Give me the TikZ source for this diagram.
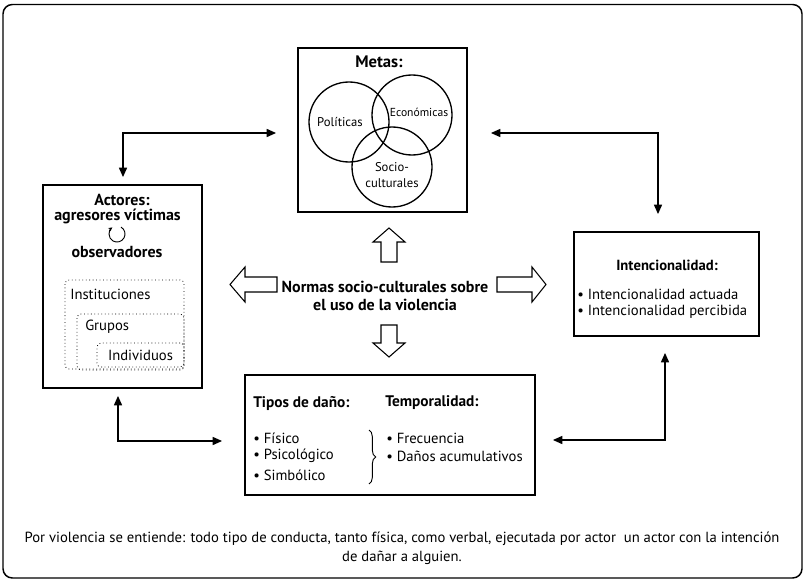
\documentclass[tikz,border=0pt]{standalone}
\usepackage{fontspec}
\setmainfont{PT Sans}
\usetikzlibrary{arrows.meta,calc,decorations.pathreplacing}

\tikzset{
  box/.style={draw, line width=1.4pt, inner sep=0pt},
  conn/.style={line width=1pt, {Triangle[length=7pt,width=6pt]}-{Triangle[length=7pt,width=6pt]}},
  blockarrow/.style={draw, line width=0.8pt, fill=white},
  level/.style={draw, dotted, rounded corners=3, line width=0.6pt},
  txt/.style={font=\fontsize{11}{13}\selectfont, inner sep=0pt},
  head/.style={font=\fontsize{11.5}{13}\selectfont\bfseries, inner sep=0pt},
  actorhead/.style={head, font=\fontsize{12}{14}\selectfont\bfseries},
}

\begin{document}
\begin{tikzpicture}[x=0.75pt,y=0.75pt,yscale=-1,xscale=1]
\useasboundingbox (0,0) rectangle (805,581);

%Outer frame
\draw [line width=1.1pt, rounded corners=7] (3,4.5) rectangle (802,578);

%Boxes
\node [box, minimum width=126.75pt, minimum height=123pt] (metas) at (382.5,130) {};
\node [box, minimum width=119.25pt, minimum height=152.25pt] (actores) at (122.5,286.5) {};
\node [box, minimum width=138.75pt, minimum height=78pt] (intenc) at (666.5,284) {};
\node [box, minimum width=217.5pt, minimum height=90pt] (tipos) at (390,435) {};

%Metas: Venn circles
\draw [line width=1pt] (349,122) circle (40);
\draw [line width=1pt] (412,115) circle (40);
\draw [line width=1pt] (392,167) circle (40);
% Text Node
\node [head, font=\fontsize{12.5}{14}\selectfont\bfseries] (metastitle) at (379,62) {Metas:};
\node [txt, font=\fontsize{9.5}{11}\selectfont] (pol) at (340,122) {Políticas};
\node [txt, font=\fontsize{8.7}{10}\selectfont] (eco) at (419,112) {Económicas};
\node [txt, align=center, font=\fontsize{9.5}{12}\selectfont] (soc) at (392,175) {Socio-\\culturales};

%Actores
\node [actorhead] (act) at (122,200) {Actores:};
\node [actorhead] (agr) at (117.5,216) {agresores víctimas};
\draw [line width=0.7pt, -{Stealth[length=3pt,width=3pt]}] (117,234) ++(-60:8) arc (-60:235:8);
\node [actorhead] (obs) at (117,252) {observadores};

%Levels (dotted)
\draw [level] (65,280) rectangle (184,369);
\draw [level] (77,314) rectangle (184,370);
\node [level, txt, minimum width=65.25pt, minimum height=18pt] (indiv) at (140.5,355) {Individuos};
\node [txt, anchor=west] (inst) at (70,294) {Instituciones};
\node [txt, anchor=west] (grup) at (85,327) {Grupos};

%Intencionalidad
\node [head, font=\fontsize{11}{13}\selectfont\bfseries] (inttitle) at (667,265) {Intencionalidad:};
\node [txt, anchor=west] (int1) at (577,294) {\textbullet~Intencionalidad actuada};
\node [txt, anchor=west] (int2) at (577,312) {\textbullet~Intencionalidad percibida};

%Tipos de daño / Temporalidad
\node [head] (tiptitle) at (253,403) [anchor=west] {Tipos de daño:};
\node [head] (temptitle) at (385,403) [anchor=west] {Temporalidad:};
\node [txt, anchor=west] (fis) at (253,438) {\textbullet~Físico};
\node [txt, anchor=west] (psi) at (253,456) {\textbullet~Psicológico};
\node [txt, anchor=west] (sim) at (253,475) {\textbullet~Simbólico};
\node [txt, anchor=west] (fre) at (386,438) {\textbullet~Frecuencia};
\node [txt, anchor=west] (acu) at (386,456) {\textbullet~Daños acumulativos};
\draw [line width=0.7pt, decorate, decoration={brace, amplitude=5pt}] (369,430) -- (369,484);

%Normas (centre)
\node [head, align=center, font=\fontsize{12}{13}\selectfont\bfseries] (normas) at (385,296) {Normas socio-culturales sobre\\el uso de la violencia};

%Up Arrow
\draw [blockarrow] (373,242) -- (389,228) -- (405,242) -- (397,242) -- (397,262) -- (381,262) -- (381,242) -- cycle;
%Down Arrow
\draw [blockarrow] (381,325) -- (397,325) -- (397,343) -- (405,343) -- (389,357) -- (373,343) -- (381,343) -- cycle;
%Left Arrow
\draw [blockarrow] (230,284.5) -- (245,267) -- (245,277) -- (277,277) -- (277,292) -- (245,292) -- (245,302) -- cycle;
%Right Arrow
\draw [blockarrow] (497,277) -- (532,277) -- (532,267) -- (546,284.5) -- (532,302) -- (532,292) -- (497,292) -- cycle;

%Connectors
\draw [conn] ($(metas.west)+(-21,3)$) -| ($(actores.north)+(0.5,-7)$);
\draw [conn] ($(metas.east)+(23,3)$) -| ($(intenc.north)+(-8.5,-17)$);
\draw [conn] ($(actores.south)+(-4.5,7)$) |- ($(tipos.west)+(-22,6)$);
\draw [conn] ($(intenc.south)+(-1.5,16)$) |- ($(tipos.east)+(17,5)$);

%Footer
\node [txt, align=center, font=\fontsize{11}{14}\selectfont] (footer) at (402,548) {Por violencia se entiende: todo tipo de conducta, tanto física, como verbal, ejecutada por actor~ un actor con la intención\\de dañar a alguien.};

\end{tikzpicture}
\end{document}
